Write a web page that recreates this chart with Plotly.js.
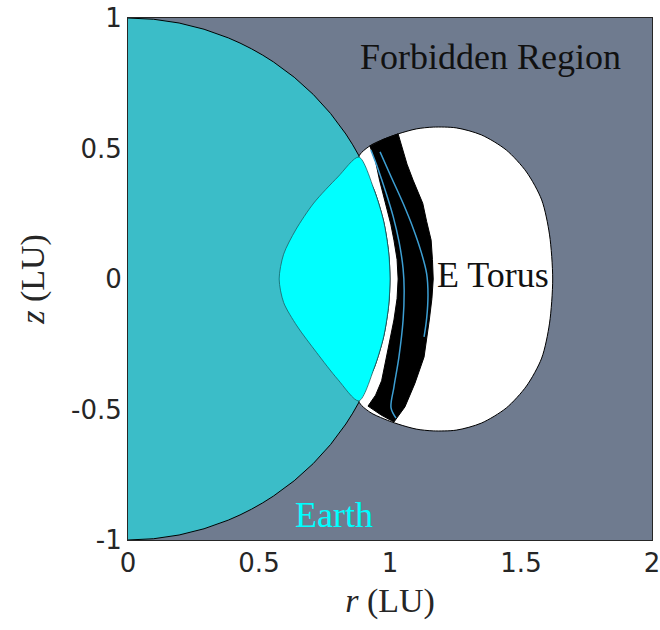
<!DOCTYPE html>
<html>
<head>
<meta charset="utf-8">
<script src="https://cdn.plot.ly/plotly-3.0.1.min.js"></script>
<style>html,body{margin:0;padding:0;background:#fff;}</style>
</head>
<body>
<div id="chart" style="width:660px;height:630px;"></div>
<script>
// ---- data (units LU) ----
const earthRadius = 1;

// E Torus outer boundary (top -> right -> bottom), then back up along Earth's surface
const torusR = [0.881, 0.923, 0.977, 1.031, 1.100, 1.165, 1.253, 1.349, 1.444, 1.521, 1.579, 1.609, 1.621,
                1.609, 1.579, 1.521, 1.444, 1.349, 1.253, 1.165, 1.100, 1.031, 0.977, 0.923, 0.881,
                0.940, 0.976, 0.995, 1.000, 0.995, 0.976, 0.940, 0.881];
const torusZ = [0.467, 0.510, 0.536, 0.556, 0.575, 0.582, 0.579, 0.552, 0.494, 0.410, 0.303, 0.169, 0.000,
                -0.169, -0.303, -0.410, -0.494, -0.552, -0.579, -0.582, -0.575, -0.556, -0.536, -0.510, -0.467,
                -0.340, -0.220, -0.100, 0.000, 0.100, 0.220, 0.340, 0.467];

// black band inside the torus: inner edge (top->bottom), bottom, outer edge (bottom->top), top
const bandR = [0.923, 0.945, 0.960, 0.985, 1.003, 1.015, 1.027, 1.031, 1.027, 1.015, 0.998, 0.985, 0.968, 0.945, 0.916,
               0.966, 1.015,
               1.057, 1.095, 1.130, 1.142, 1.150, 1.160, 1.165, 1.162, 1.157, 1.140, 1.125, 1.088, 1.065, 1.031,
               0.977, 0.923];
const bandZ = [0.510, 0.450, 0.379, 0.280, 0.210, 0.149, 0.075, 0.000, -0.075, -0.157, -0.240, -0.299, -0.390, -0.445, -0.487,
               -0.521, -0.548,
               -0.490, -0.400, -0.299, -0.220, -0.157, -0.075, 0.000, 0.075, 0.149, 0.220, 0.290, 0.379, 0.440, 0.556,
               0.536, 0.510];

// bright cyan region inside Earth (left curve, then Earth's surface back up)
const lensR = [0.881, 0.801, 0.709, 0.640, 0.594, 0.577, 0.594, 0.645, 0.720, 0.801, 0.881,
               0.940, 0.976, 0.995, 1.000, 0.995, 0.976, 0.940, 0.881];
const lensZ = [0.467, 0.391, 0.291, 0.188, 0.095, 0.000, -0.090, -0.180, -0.282, -0.385, -0.467,
               -0.340, -0.220, -0.100, 0.000, 0.100, 0.220, 0.340, 0.467];

// blue curves within the black band
const curveAR = [0.927, 0.955, 0.985, 1.012, 1.035, 1.050, 1.054, 1.050, 1.034, 1.015, 1.004, 1.023];
const curveAZ = [0.494, 0.420, 0.330, 0.240, 0.140, 0.040, -0.040, -0.157, -0.299, -0.414, -0.494, -0.533];
const curveBR = [0.962, 1.005, 1.050, 1.090, 1.120, 1.140, 1.145, 1.140, 1.130];
const curveBZ = [0.487, 0.390, 0.290, 0.190, 0.100, 0.020, -0.060, -0.150, -0.222];

// ticks
const xTickVals = [0, 0.5, 1, 1.5, 2];
const xTickText = ["0", "0.5", "1", "1.5", "2"];
const yTickVals = [-1, -0.5, 0, 0.5, 1];
const yTickText = ["-1", "-0.5", "0", "0.5", "1"];

// labels
const labelText = ["Forbidden Region", "E Torus", "Earth"];
const labelR = [1.383, 1.395, 0.785];
const labelZ = [0.851, 0.015, -0.904];
const labelColor = ["#111111", "#111111", "#00ffff"];

// ---- figure ----
const serif = "Liberation Serif, DejaVu Serif, serif";
const traces = [
  {x: torusR, y: torusZ, type: "scatter", mode: "lines", fill: "toself",
   fillcolor: "#ffffff", line: {color: "#000000", width: 1, shape: "spline", smoothing: 0.8}, hoverinfo: "skip"},
  {x: bandR, y: bandZ, type: "scatter", mode: "lines", fill: "toself",
   fillcolor: "#000000", line: {color: "#000000", width: 1}, hoverinfo: "skip"},
  {x: lensR, y: lensZ, type: "scatter", mode: "lines", fill: "toself",
   fillcolor: "#00ffff", line: {color: "#1d5f66", width: 0.8, shape: "spline", smoothing: 0.8}, hoverinfo: "skip"},
  {x: curveAR, y: curveAZ, type: "scatter", mode: "lines",
   line: {color: "#3d9fd3", width: 1.5, shape: "spline"}, hoverinfo: "skip"},
  {x: curveBR, y: curveBZ, type: "scatter", mode: "lines",
   line: {color: "#3d9fd3", width: 1.5, shape: "spline"}, hoverinfo: "skip"}
];

const annotations = labelText.map((t, i) => ({
  x: labelR[i], y: labelZ[i], xref: "x", yref: "y", text: t, showarrow: false,
  xanchor: "center", yanchor: "middle",
  font: {family: serif, size: 36, color: labelColor[i]}
}));

const layout = {
  width: 660, height: 630,
  margin: {l: 128, r: 8, t: 18, b: 90},
  paper_bgcolor: "#ffffff",
  plot_bgcolor: "#6f7b8f",
  showlegend: false,
  xaxis: {
    range: [0, 2], tickvals: xTickVals, ticktext: xTickText,
    showgrid: false, zeroline: false, showline: true, mirror: true,
    linecolor: "#262626", linewidth: 1, ticks: "",
    ticklabeloverflow: "allow",
    tickfont: {family: "DejaVu Sans, sans-serif", size: 26, color: "#262626"},
    title: {text: "<i>r</i> (LU)", font: {family: serif, size: 34, color: "#262626"}, standoff: 10},
    fixedrange: true
  },
  yaxis: {
    range: [-1, 1], tickvals: yTickVals, ticktext: yTickText,
    showgrid: false, zeroline: false, showline: true, mirror: true,
    linecolor: "#262626", linewidth: 1, ticks: "",
    ticklabeloverflow: "allow",
    tickfont: {family: "DejaVu Sans, sans-serif", size: 26, color: "#262626"},
    title: {text: "<i>z</i> (LU)", font: {family: serif, size: 34, color: "#262626"}, standoff: 16},
    fixedrange: true
  },
  shapes: [{
    type: "circle", xref: "x", yref: "y", layer: "below",
    x0: -earthRadius, x1: earthRadius, y0: -earthRadius, y1: earthRadius,
    fillcolor: "#3bbdc8", line: {color: "#000000", width: 1}
  }],
  annotations: annotations
};

Plotly.newPlot("chart", traces, layout, {displayModeBar: false, staticPlot: true});
</script>
</body>
</html>
